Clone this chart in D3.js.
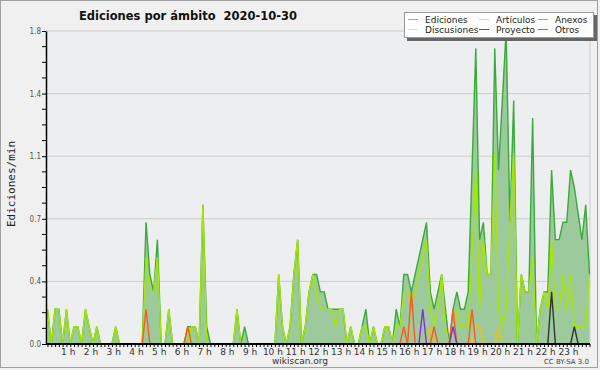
<!DOCTYPE html>
<html><head><meta charset="utf-8">
<script src="https://cdn.jsdelivr.net/npm/d3@7/dist/d3.min.js"></script>
<style>body{margin:0;background:#f0f0f0} svg{display:block} text{white-space:pre}</style>
</head><body><svg id="c" width="600" height="370"></svg>
<script>
// ---- data (10-minute buckets, edits per minute) ----
const hourLabels = d3.range(1, 24).map(h => h + " h");
const yTickValues = [0, 0.36, 0.72, 1.08, 1.44, 1.8];
const yTickLabels = ["0.0", "0.4", "0.7", "1.1", "1.4", "1.8"];
const ediciones = [
  0.2,0,0.2,0.2,0,0.2, 0,0.1,0.1,0,0.2,0.1, 0,0.1,0,0,0,0, 0.1,0,0,0,0,0,
  0,0,0.7,0.4,0.3,0.6, 0,0,0.2,0,0,0, 0,0.1,0.1,0.1,0,0.8, 0.1,0,0,0,0,0,
  0,0,0.2,0,0.1,0, 0,0,0,0,0,0, 0,0.4,0.1,0,0.1,0.4, 0.6,0,0.1,0.3,0.4,0.4,
  0.3,0.3,0.2,0.2,0.2,0.2, 0.2,0,0.1,0,0,0.1, 0.2,0,0.1,0,0,0.1, 0.1,0,0.2,0.1,0.4,0.4,
  0.3,0.4,0.5,0.6,0.7,0.3, 0.2,0.3,0.4,0.2,0,0.2, 0.3,0.2,0.2,0.3,1.0,1.7, 0.6,0.7,0.4,0.4,1.7,1.0,
  1.4,1.8,0.7,1.4,0,0.4, 0.3,0.3,1.3,0,0.2,0.3, 0.3,1.0,0.6,0.6,0.7,0.7, 1.0,0.9,0.75,0.6,0.8,0.4
];
const articulos = [
  0.2,0,0.2,0.2,0,0.2, 0,0.1,0.1,0,0.2,0.1, 0,0.1,0,0,0,0, 0.1,0,0,0,0,0,
  0,0,0.5,0.3,0.3,0.5, 0,0,0.2,0,0,0, 0,0,0.1,0.1,0,0.8, 0,0,0,0,0,0,
  0,0,0.2,0,0,0, 0,0,0,0,0,0, 0,0.4,0.1,0,0.1,0.4, 0.6,0,0.1,0.3,0.4,0.3,
  0.2,0.2,0.2,0.2,0.1,0.2, 0.2,0,0.1,0,0,0.1, 0.1,0,0.1,0,0,0.1, 0.1,0,0.1,0.1,0.3,0.3,
  0.2,0.3,0.4,0.5,0.6,0.2, 0.1,0.2,0.4,0.1,0,0.1, 0.2,0.1,0.1,0.1,0.5,1.0, 0.2,0.6,0.4,0.4,1.1,0.2,
  0.1,0.2,0.7,1.1,0,0.4, 0.3,0.3,0.5,0,0.2,0.3, 0.2,0.6,0.2,0.2,0.4,0.2, 0.4,0.1,0.1,0.1,0.1,0.4
];
const anexos = new Array(144).fill(0);
[[26,0.2],[37,0.1],[94,0.1],[96,0.3],[102,0.1],[107,0.2],[112,0.2]].forEach(([i,v]) => anexos[i] = v);
const discusiones = new Array(144).fill(0);
[[101,0.1],[113,0.1],[114,0.1],[119,0.1]].forEach(([i,v]) => discusiones[i] = v);
const proyecto = new Array(144).fill(0);
[[133,0.3],[139,0.1]].forEach(([i,v]) => proyecto[i] = v);
const otros = new Array(144).fill(0);
[[99,0.2],[107,0.1]].forEach(([i,v]) => otros[i] = v);

const legendItems = [
  ["Ediciones", "#77cc77"], ["Artículos", "#ccee55"], ["Anexos", "#ff8855"],
  ["Discusiones", "#ffdd66"], ["Proyecto", "#555555"], ["Otros", "#9955ff"]
];

// ---- drawing ----
const svg = d3.select("#c");
const x = d3.scaleLinear().domain([0, 143]).range([47.5, 589.5]);
const y = d3.scaleLinear().domain([0, 1.8]).range([344, 31]);

svg.append("rect").attr("x", 0.5).attr("y", 0.5).attr("width", 597).attr("height", 367)
  .attr("fill", "#f0f0f0").attr("stroke", "#a0a0a0");
svg.append("rect").attr("x", 46).attr("y", 31).attr("width", 544).attr("height", 313).attr("fill", "#edeef0");

svg.append("g").selectAll("line").data(yTickValues).join("line")
  .attr("x1", 46).attr("x2", 590).attr("y1", d => y(d)).attr("y2", d => y(d))
  .attr("stroke", "#cccccc").attr("stroke-width", 1);
svg.append("line").attr("x1", 590).attr("x2", 590).attr("y1", 31).attr("y2", 344).attr("stroke", "#cccccc");

const idx = d3.range(144);
const area = d3.area().x(i => x(i)).y0(y(0)).y1(i => y(ediciones[i]));
svg.append("path").datum(idx).attr("d", area).attr("fill", "#9cca9c");
const line = arr => d3.line().x(i => x(i)).y(i => y(arr[i]));
const series = [
  [ediciones, "#3aaa3a"], [articulos, "#a6e600"], [discusiones, "#f2c200"],
  [proyecto, "#333333"], [anexos, "#ff5a1a"], [otros, "#8a2be2"]
];
series.forEach(([arr, col]) => {
  svg.append("path").datum(idx).attr("d", line(arr)).attr("fill", "none")
    .attr("stroke", col).attr("stroke-width", 1.4);
});

const yAxis = d3.axisLeft(y).tickValues(yTickValues).tickFormat((d, i) => yTickLabels[i]).tickSize(4).tickSizeOuter(0);
const gy = svg.append("g").attr("transform", "translate(46,0)").call(yAxis);
gy.select(".domain").attr("stroke", "#000").attr("stroke-width", 1.5);
gy.selectAll(".tick line").attr("stroke", "#000");
gy.selectAll(".tick text").attr("font-family", "DejaVu Sans Condensed, DejaVu Sans").attr("font-size", 8).attr("fill", "#555").attr("x", -5);
const minorY = d3.range(0, 20).map(k => k * 0.09).filter((d, k) => k % 4 !== 0);
svg.append("g").selectAll("line").data(minorY).join("line")
  .attr("x1", 42).attr("x2", 46).attr("y1", d => y(d)).attr("y2", d => y(d)).attr("stroke", "#000");

const xAxis = d3.axisBottom(x).tickValues(d3.range(0, 144)).tickFormat("").tickSize(3).tickSizeOuter(0);
const gx = svg.append("g").attr("transform", "translate(0,344)").call(xAxis);
gx.select(".domain").attr("stroke", "#000").attr("stroke-width", 2).attr("d", "M46,0H590");
gx.selectAll(".tick line").attr("stroke", "#000");
svg.append("g").selectAll("text").data(hourLabels).join("text")
  .attr("x", (d, k) => x((k + 1) * 6) - 2).attr("y", 355).attr("text-anchor", "middle")
  .attr("font-family", "DejaVu Sans").attr("font-size", 9).attr("fill", "#333").text(d => d);

svg.append("text").attr("x", 188).attr("y", 20).attr("text-anchor", "middle")
  .attr("font-family", "DejaVu Sans").attr("font-weight", "bold").attr("font-size", 11.5).attr("fill", "#111")
  .text("Ediciones por ámbito  2020-10-30");
svg.append("text").attr("transform", "translate(15,184) rotate(-90)").attr("text-anchor", "middle")
  .attr("font-family", "DejaVu Sans Mono").attr("font-size", 11).attr("fill", "#222").text("Ediciones/min");
svg.append("text").attr("x", 300).attr("y", 364).attr("text-anchor", "middle")
  .attr("font-family", "DejaVu Sans").attr("font-size", 9).attr("fill", "#333").text("wikiscan.org");
svg.append("text").attr("x", 589).attr("y", 364).attr("text-anchor", "end")
  .attr("font-family", "DejaVu Sans").attr("font-size", 7).attr("fill", "#444").text("CC BY-SA 3.0");

const lg = svg.append("g");
lg.append("rect").attr("x", 407).attr("y", 15).attr("width", 190).attr("height", 26).attr("fill", "#666");
lg.append("rect").attr("x", 404.5).attr("y", 12.5).attr("width", 189).attr("height", 25).attr("fill", "#fff").attr("stroke", "#999");
const colX = [408, 479, 538];
legendItems.forEach(([name, col], k) => {
  const cx = colX[k % 3], cy = k < 3 ? 19.5 : 29.5;
  lg.append("line").attr("x1", cx).attr("x2", cx + 10).attr("y1", cy).attr("y2", cy).attr("stroke", col).attr("stroke-width", 1);
  lg.append("text").attr("x", cx + 17).attr("y", cy + 3).attr("font-family", "DejaVu Sans").attr("font-size", 9)
    .attr("fill", "#222").text(name);
});
</script></body></html>
